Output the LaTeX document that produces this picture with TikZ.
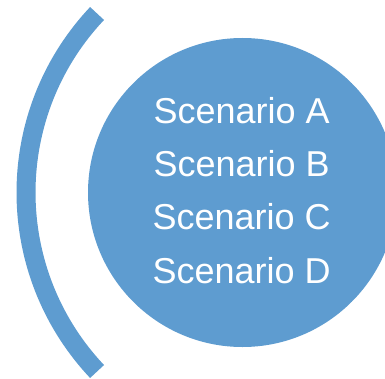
\documentclass[tikz,border=0pt]{standalone}
\usepackage{fontspec}
\setmainfont{Liberation Sans}
\definecolor{scblue}{RGB}{94,156,208}
\tikzset{
  bigdisc/.style={circle, fill=scblue, draw=none, minimum size=309pt, inner sep=0pt},
  sclabel/.style={text=white, font=\fontsize{36}{40}\selectfont, anchor=base, inner sep=0pt},
  arcline/.style={draw=scblue, line width=19pt, line cap=butt}
}
\begin{document}
\begin{tikzpicture}[x=1pt,y=1pt]
\useasboundingbox (0,0) rectangle (385,378);
\clip (0,0) rectangle (385,378);
\node[bigdisc] (disc) at (242.5,185.5) {};
\draw[arcline] (287,185.5) ++(136.7:261) arc[start angle=136.7, end angle=223.3, radius=261];
\node[sclabel] (sa) at (241.6,254.7) {Scenario A};
\node[sclabel] (sb) at (241.6,201.5) {Scenario B};
\node[sclabel] (sc) at (241.6,148.2) {Scenario C};
\node[sclabel] (sd) at (241.6,94.7) {Scenario D};
\end{tikzpicture}
\end{document}
